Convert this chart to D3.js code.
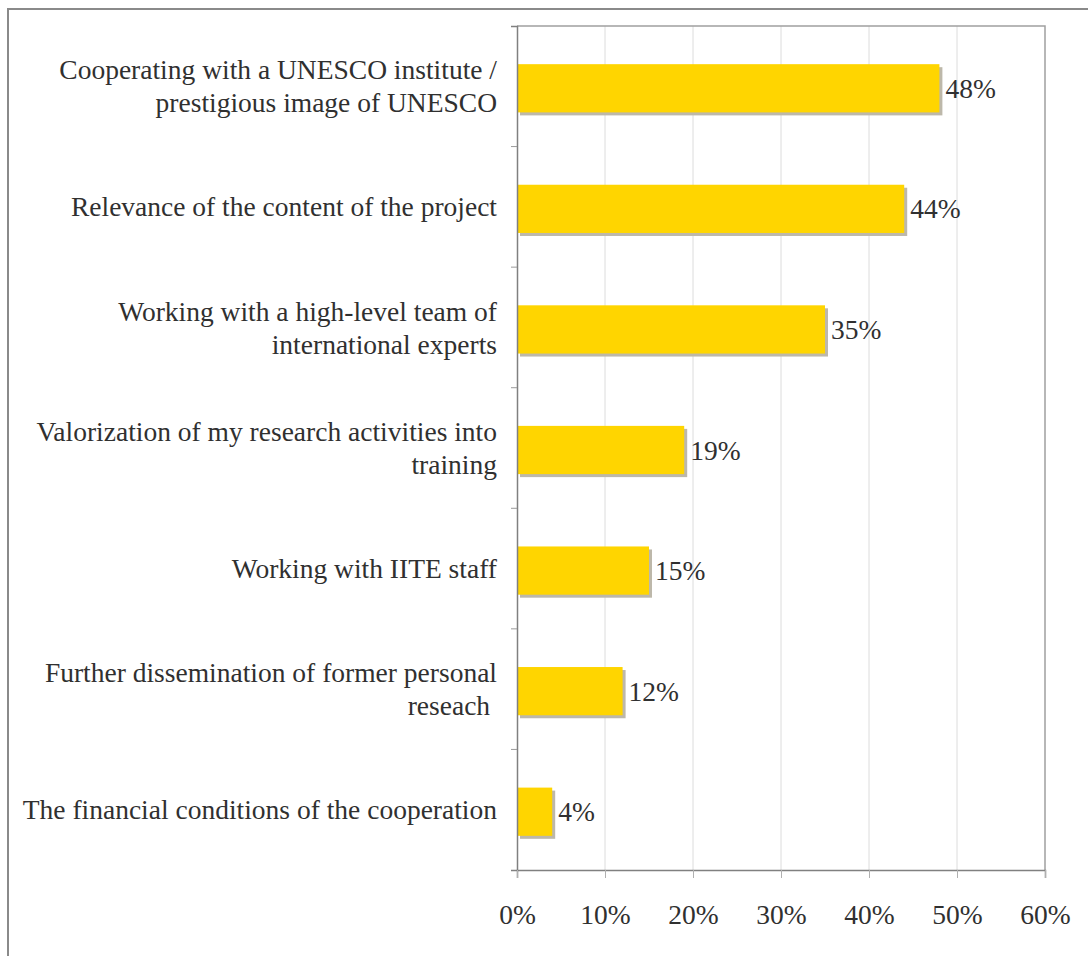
<!DOCTYPE html>
<html>
<head>
<meta charset="utf-8">
<script src="https://cdn.jsdelivr.net/npm/d3@7"></script>
<style>
  html, body { margin: 0; padding: 0; background: #fff; }
  svg { display: block; }
  text { font-family: "Liberation Serif", "Times New Roman", serif; fill: #303030; white-space: pre; }
</style>
</head>
<body>
<svg id="chart" width="1088" height="956"></svg>
<script>
// Reasons for cooperating, each label split into its printed lines
const categories = [
  ["Cooperating with a UNESCO institute /", "prestigious image of UNESCO"],
  ["Relevance of the content of the project"],
  ["Working with a high-level team of", "international experts"],
  ["Valorization of my research activities into", "training"],
  ["Working with IITE staff"],
  ["Further dissemination of former personal", "reseach "],
  ["The financial conditions of the cooperation"]
];
const values = [48, 44, 35, 19, 15, 12, 4];
const xTicks = [0, 10, 20, 30, 40, 50, 60];

const svg = d3.select("#chart");
const margin = { left: 517, right: 1045, top: 26, bottom: 870 };

// outer frame
svg.append("rect")
  .attr("x", 8).attr("y", 9)
  .attr("width", 1100).attr("height", 1000)
  .attr("fill", "none")
  .attr("stroke", "#8a8a8a")
  .attr("stroke-width", 2);

const x = d3.scaleLinear().domain([0, 60]).range([margin.left, margin.right]);
// category bands (ticks and labels)
const yOuter = d3.scaleBand()
  .domain(d3.range(categories.length))
  .range([margin.top, margin.bottom]);
// bar positions inside each band
const y = d3.scaleBand()
  .domain(d3.range(categories.length))
  .range([margin.top + 2, margin.bottom + 2])
  .paddingInner(0.6).paddingOuter(0.3);

// vertical gridlines
svg.append("g").selectAll("line")
  .data(xTicks.slice(1, -1))
  .join("line")
  .attr("x1", d => x(d)).attr("x2", d => x(d))
  .attr("y1", margin.top).attr("y2", margin.bottom)
  .attr("stroke", "#dcdcdc").attr("stroke-width", 1);

// plot frame (top and right)
svg.append("path")
  .attr("d", `M${margin.left},${margin.top}H${margin.right}V${margin.bottom}`)
  .attr("fill", "none")
  .attr("stroke", "#a0a0a0")
  .attr("stroke-width", 1.5);

// bar shadows
svg.append("g").selectAll("rect")
  .data(values)
  .join("rect")
  .attr("x", x(0) + 3)
  .attr("y", (d, i) => y(i) + 3)
  .attr("width", d => x(d) - x(0))
  .attr("height", y.bandwidth())
  .attr("fill", "#bdb8aa");

// bars
svg.append("g").selectAll("rect")
  .data(values)
  .join("rect")
  .attr("x", x(0))
  .attr("y", (d, i) => y(i))
  .attr("width", d => x(d) - x(0))
  .attr("height", y.bandwidth())
  .attr("fill", "#FFD500");

// value labels
svg.append("g").selectAll("text")
  .data(values)
  .join("text")
  .attr("x", d => x(d) + 6)
  .attr("y", (d, i) => y(i) + y.bandwidth() / 2)
  .attr("dy", "0.35em")
  .attr("font-size", 27.5)
  .text(d => d + "%");

// y axis: line and category ticks
const yAxis = d3.axisLeft(yOuter).tickSize(6).tickFormat("");
const yg = svg.append("g").attr("transform", `translate(${margin.left},0)`);
yg.call(yAxis.tickValues(d3.range(1, categories.length)))
  .call(g => g.selectAll(".tick").attr("transform", d => `translate(0,${yOuter(d)})`));
yg.select(".domain").attr("stroke", "#808080").attr("stroke-width", 1.5);
yg.selectAll(".tick line").attr("stroke", "#9a9a9a");

// category labels
const lineH = 33;
svg.append("g").selectAll("text")
  .data(categories)
  .join("text")
  .attr("text-anchor", "end")
  .attr("font-size", 27.5)
  .each(function (lines, i) {
    const cy = yOuter(i) + yOuter.bandwidth() / 2;
    const t = d3.select(this);
    lines.forEach((ln, k) => {
      t.append("tspan")
        .attr("x", 497)
        .attr("y", cy + (k - (lines.length - 1) / 2) * lineH)
        .attr("dy", "0.35em")
        .text(ln);
    });
  });

// x axis
const xAxis = d3.axisBottom(x).tickValues(xTicks).tickSize(8).tickPadding(26).tickFormat(d => d + "%");
const xg = svg.append("g").attr("transform", `translate(0,${margin.bottom})`).call(xAxis);
xg.select(".domain").attr("stroke", "#808080").attr("stroke-width", 1.5);
xg.selectAll(".tick line").attr("stroke", "#b0b0b0");
xg.selectAll(".tick text")
  .attr("font-size", 27.5)
  .attr("font-family", "Liberation Serif, serif")
  .attr("fill", "#303030");
</script>
</body>
</html>
